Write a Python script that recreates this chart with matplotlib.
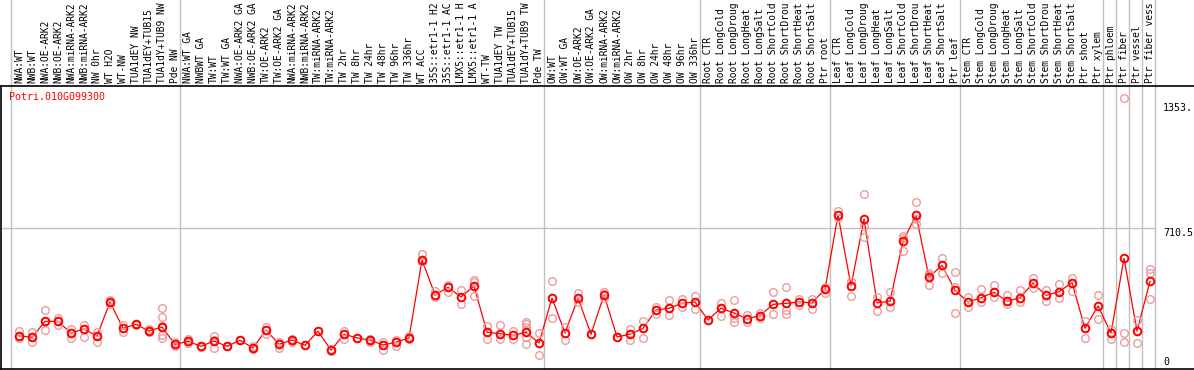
import numpy as np
import matplotlib
matplotlib.use("Agg")
import matplotlib.pyplot as plt

# sample names (x axis, top), as far as the chart shows them
labels = [
    "NWA:WT", "NWB:WT", "NWA:OE-ARK2", "NWB:OE-ARK2", "NWA:miRNA-ARK2", "NWB:miRNA-ARK2",
    "NW 0hr", "WT H2O", "WT-NW", "TUA1dEY NW", "TUA1dEY+TUB15", "TUA1dY+TUB9 NW", "Pde NW",
    "NWA:WT GA", "NWBWT GA", "TW:WT", "TW:WT GA", "NWA:OE-ARK2 GA", "NWB:OE-ARK2 GA",
    "TW:OE-ARK2", "TW:OE-ARK2 GA", "NWA:miRNA-ARK2", "NWB:miRNA-ARK2", "TW:miRNA-ARK2",
    "TW:miRNA-ARK2", "TW 2hr", "TW 8hr", "TW 24hr", "TW 48hr", "TW 96hr", "TW 336hr",
    "WT ACC", "35S::etr1-1 H2", "35S::etr1-1 AC", "LMX5::etr1-1 H", "LMX5::etr1-1 A",
    "WT-TW", "TUA1dEY TW", "TUA1dEY+TUB15", "TUA1dY+TUB9 TW", "Pde TW",
    "OW:WT", "OW:WT GA", "OW:OE-ARK2", "OW:OE-ARK2 GA", "OW:miRNA-ARK2", "OW:miRNA-ARK2",
    "OW 2hr", "OW 8hr", "OW 24hr", "OW 48hr", "OW 96hr", "OW 336hr",
    "Root CTR", "Root LongCold", "Root LongDroug", "Root LongHeat", "Root LongSalt",
    "Root ShortCold", "Root ShortDrou", "Root ShortHeat", "Root ShortSalt", "Ptr root",
    "Leaf CTR", "Leaf LongCold", "Leaf LongDroug", "Leaf LongHeat", "Leaf LongSalt",
    "Leaf ShortCold", "Leaf ShortDrou", "Leaf ShortHeat", "Leaf ShortSalt", "Ptr leaf",
    "Stem CTR", "Stem LongCold", "Stem LongDroug", "Stem LongHeat", "Stem LongSalt",
    "Stem ShortCold", "Stem ShortDrou", "Stem ShortHeat", "Stem ShortSalt",
    "Ptr shoot", "Ptr xylem", "Ptr phloem", "Ptr fiber", "Ptr vessel", "Ptr fiber vess",
]

# mean expression per sample
means = [
    160, 152, 234, 234, 174, 195, 159, 333, 198, 219, 184, 205, 116,
    132, 106, 133, 106, 137, 97, 190, 116, 138, 111, 183, 86, 168, 149, 138, 113, 127, 149,
    548, 370, 408, 359, 415, 178, 171, 162, 178, 123,
    353, 174, 353, 168, 370, 154, 168, 198, 292, 301, 326, 333,
    241, 301, 277, 247, 263, 321, 326, 333, 329, 398,
    779, 415, 758, 329, 337, 644, 777, 460, 521, 393,
    333, 355, 383, 337, 355, 429, 367, 386, 432,
    198, 313, 173, 557, 184, 439,
]

# replicate values per sample
reps = [
    [186, 160, 147], [179, 152, 130], [290, 234, 190], [253, 234, 214], [193, 174, 147],
    [215, 195, 155], [181, 159, 127], [343, 333, 321], [217, 198, 178], [219, 221, 216],
    [195, 184, 178], [301, 255, 212, 205, 164, 147], [130, 116, 108],
    [142, 132, 125], [106, 106, 104], [160, 140, 96], [106, 106], [137, 137], [109, 97, 91],
    [207, 190, 169], [130, 116, 96], [145, 138, 128], [111, 111], [183, 183], [91, 86, 82],
    [186, 168, 142], [149, 149], [142, 138, 130], [127, 113, 89], [138, 127, 108], [159, 149, 142],
    [579, 548, 540], [391, 370, 357], [422, 408, 384], [394, 359, 321], [446, 437, 362],
    [212, 178, 142], [214, 171, 142], [183, 162, 145], [232, 220, 203, 178, 155, 116], [174, 123, 63],
    [439, 353, 249], [203, 174, 137], [381, 353, 333], [168, 168], [384, 374, 352], [154, 154],
    [193, 168, 138], [234, 198, 147], [306, 292, 272], [343, 301, 265], [350, 326, 306], [364, 333, 296],
    [241, 241], [326, 301, 263], [342, 249, 229], [265, 247, 229], [275, 263, 251],
    [384, 321, 272], [408, 292, 272], [350, 333, 316], [350, 329, 299], [412, 398, 377],
    [799, 779, 765], [442, 415, 364], [886, 724, 664], [360, 329, 288], [384, 337, 306],
    [673, 663, 593], [844, 757, 731], [483, 470, 420], [557, 521, 483], [487, 412, 275],
    [360, 333, 306], [398, 355, 331], [420, 383, 357], [367, 337, 321], [393, 355, 331],
    [456, 429, 406], [394, 367, 338], [424, 386, 352], [457, 432, 391],
    [234, 198, 147], [369, 313, 244], [193, 173, 145], [1376, 173, 127], [241, 184, 121],
    [502, 480, 347],
]

# index of first sample in each group
group_starts = [0, 13, 41, 53, 63, 73, 84, 85, 86, 87, 88]
ytick_vals = [1353, 710.5, 0]
ytick_text = ["1353.", "710.5", "0"]
gene = "Potri.010G099300"

W, H = 1194, 370
fig = plt.figure(figsize=(W / 100, H / 100), dpi=100)
ax = fig.add_axes([1 / W, 1 - 369 / H, 1193 / W, 283.5 / H])
mono = "DejaVu Sans Mono"

x = np.arange(len(labels))
ax.set_xlim(-1.385, -1.385 + 1193 / 13)
ax.set_ylim(-10.2, 1442)

top_frac = 1 + 85.5 / 283.5
for g in group_starts:
    ax.axvline(g - 0.6, ymin=0, ymax=top_frac, color="#c0c0c0", lw=1, clip_on=False, zorder=0)
ax.hlines(710.5, -1.385, 87.4, color="#c0c0c0", lw=1, zorder=0)

ax.plot(x, means, color="red", lw=0.9, zorder=2)
for i, r in enumerate(reps):
    ax.plot([i] * len(r), r, "o", ms=5.5, mfc="none", mec="#ec9c9c", mew=1, zorder=3)
ax.plot(x, means, "o", ms=5.5, mfc="none", mec="red", mew=1.4, zorder=4)

for i, lab in enumerate(labels):
    ax.text(i, 1.008, lab, transform=ax.get_xaxis_transform(), rotation=90,
            ha="center", va="bottom", fontsize=6.9, family=mono, clip_on=False)

for v, t in zip(ytick_vals, ytick_text):
    ax.text(88.0, v, t, ha="left", va="bottom" if v == 0 else "top", fontsize=7.2, family=mono)

ax.text(0.007, 0.958, gene, transform=ax.transAxes, color="red", fontsize=7.2,
        family=mono, va="center", ha="left")

ax.set_xticks([])
ax.set_yticks([])
ax.spines["right"].set_visible(False)
for s in ["left", "top", "bottom"]:
    ax.spines[s].set_linewidth(1.2)

fig.savefig("out.png", dpi=100)
